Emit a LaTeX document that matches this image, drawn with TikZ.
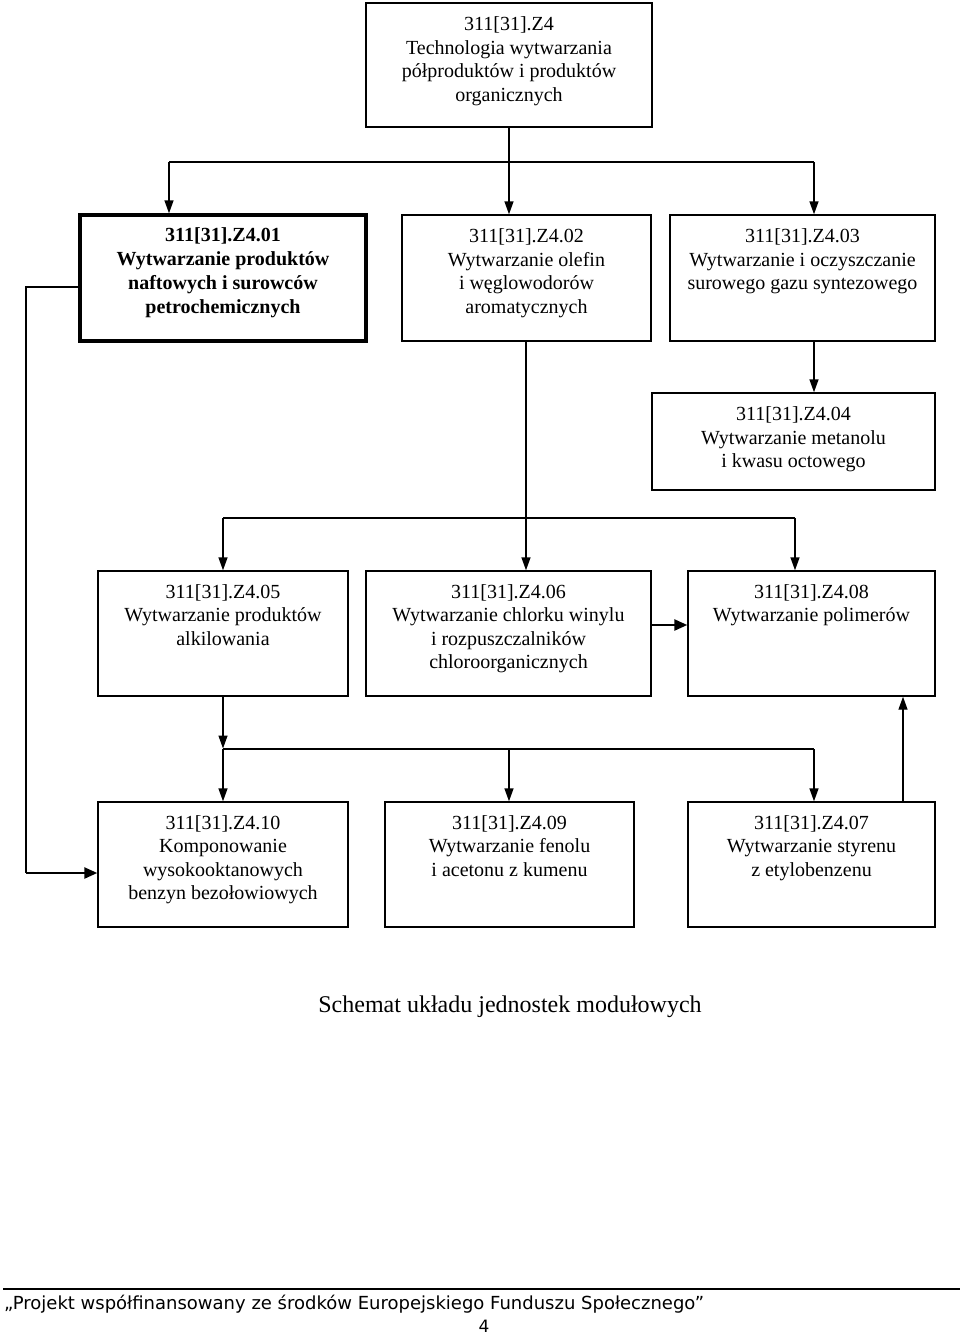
\documentclass[tikz,border=0pt]{standalone}
\usepackage{fontspec}
\setmainfont{Liberation Serif}
\newfontfamily\footfont{DejaVu Sans}
\usetikzlibrary{arrows.meta,calc}
\begin{document}
\begin{tikzpicture}[x=1pt,y=-1pt,
  box/.style={draw, line width=1.4pt, inner sep=0pt},
  boldbox/.style={draw, line width=3.4pt, inner sep=0pt},
  txt/.style={anchor=north, align=center, inner sep=0pt, font=\fontsize{20}{23.5}\selectfont},
  ln/.style={line width=1.4pt},
  arr/.style={line width=1.4pt, -{Triangle[length=13pt,width=9pt]}},
  thickarr/.style={line width=2.4pt, -{Triangle[length=13pt,width=11pt]}}]
\useasboundingbox (0,0) rectangle (960,1336);

% boxes
\node[box, minimum width=286pt, minimum height=124pt] (top) at (509,65) {};
\node[boldbox, minimum width=286pt, minimum height=126pt] (b01) at (223,278) {};
\node[box, minimum width=249pt, minimum height=126pt] (b02) at (526.5,278) {};
\node[box, minimum width=265pt, minimum height=126pt] (b03) at (802.5,278) {};
\node[box, minimum width=283pt, minimum height=97pt] (b04) at (793.5,441.5) {};
\node[box, minimum width=250pt, minimum height=125pt] (b05) at (223,633.5) {};
\node[box, minimum width=285pt, minimum height=125pt] (b06) at (508.5,633.5) {};
\node[box, minimum width=247pt, minimum height=125pt] (b08) at (811.5,633.5) {};
\node[box, minimum width=250pt, minimum height=125pt] (b10) at (223,864.5) {};
\node[box, minimum width=249pt, minimum height=125pt] (b09) at (509.5,864.5) {};
\node[box, minimum width=247pt, minimum height=125pt] (b07) at (811.5,864.5) {};

% texts
\node[txt] (ttop) at ($(top.north)+(0,14.5)$) {311[31].Z4\\Technologia wytwarzania\\półproduktów i produktów\\organicznych};
\node[txt, font=\fontsize{20}{24}\selectfont\bfseries] (t01) at ($(b01.north)+(0,14.5)$) {311[31].Z4.01\\Wytwarzanie produktów\\naftowych i surowców\\petrochemicznych};
\node[txt] (t02) at ($(b02.north)+(0,14.5)$) {311[31].Z4.02\\Wytwarzanie olefin\\i węglowodorów\\aromatycznych};
\node[txt] (t03) at ($(b03.north)+(0,14.5)$) {311[31].Z4.03\\Wytwarzanie i oczyszczanie\\surowego gazu syntezowego};
\node[txt] (t04) at ($(b04.north)+(0,14.5)$) {311[31].Z4.04\\Wytwarzanie metanolu\\i kwasu octowego};
\node[txt] (t05) at ($(b05.north)+(0,14)$) {311[31].Z4.05\\Wytwarzanie produktów\\alkilowania};
\node[txt] (t06) at ($(b06.north)+(0,14)$) {311[31].Z4.06\\Wytwarzanie chlorku winylu\\i rozpuszczalników\\chloroorganicznych};
\node[txt] (t08) at ($(b08.north)+(0,14)$) {311[31].Z4.08\\Wytwarzanie polimerów};
\node[txt] (t10) at ($(b10.north)+(0,14)$) {311[31].Z4.10\\Komponowanie\\wysokooktanowych\\benzyn bezołowiowych};
\node[txt] (t09) at ($(b09.north)+(0,14)$) {311[31].Z4.09\\Wytwarzanie fenolu\\i acetonu z kumenu};
\node[txt] (t07) at ($(b07.north)+(0,14)$) {311[31].Z4.07\\Wytwarzanie styrenu\\z etylobenzenu};

% junction coordinates
\coordinate (j1) at (509,162);
\coordinate (j1l) at (169,162);
\coordinate (j1r) at (814,162);
\coordinate (j2) at (526,518);
\coordinate (j2l) at (223,518);
\coordinate (j2r) at (795,518);
\coordinate (j3) at (223,749);
\coordinate (j3m) at (509,749);
\coordinate (j3r) at (814,749);
\coordinate (c1) at (26,287);
\coordinate (c2) at (26,873);

% top -> row 2
\draw[ln] (top.south) -- (j1);
\draw[ln] (j1l) -- (j1r);
\draw[arr] (j1l) -- (j1l |- b01.north);
\draw[arr] (j1) -- (j1 |- b02.north);
\draw[arr] (j1r) -- (j1r |- b03.north);

% 03 -> 04
\draw[arr] (j1r |- b03.south) -- (j1r |- b04.north);

% 02 -> 05, 06, 08
\draw[arr] (j2 |- b02.south) -- (j2 |- b06.north);
\draw[ln] (j2l) -- (j2r);
\draw[arr] (j2l) -- (j2l |- b05.north);
\draw[arr] (j2r) -- (j2r |- b08.north);

% 06 -> 08
\draw[thickarr] ($(b06.east)+(0,-8.5)$) -- ($(b08.west)+(0,-8.5)$);

% 01 -> 10
\draw[ln] (c1 -| b01.west) -- (c1) -- (c2);
\draw[thickarr] (c2) -- (c2 -| b10.west);

% 05 -> 10, 09, 07
\draw[arr] (j3 |- b05.south) -- ($(j3)+(0,-0.5)$);
\draw[ln] (j3) -- (j3r);
\draw[arr] (j3) -- (j3 |- b10.north);
\draw[arr] (j3m) -- (j3m |- b09.north);
\draw[arr] (j3r) -- (j3r |- b07.north);

% 07 -> 08
\coordinate (u) at (903,802);
\draw[arr] (u |- b07.north) -- (u |- b08.south);

% caption
\node[font=\fontsize{24}{28}\selectfont, inner sep=0pt] (title) at (510,1007) {Schemat układu jednostek modułowych};

% footer
\coordinate (fl) at (3,1289);
\coordinate (fr) at (960,1289);
\draw[line width=1.8pt] (fl) -- (fr);
\node[anchor=west, inner sep=0pt, font=\footfont\fontsize{18}{21}\selectfont] (foot) at (4,1304) {„Projekt współfinansowany ze środków Europejskiego Funduszu Społecznego”};
\node[inner sep=0pt, font=\footfont\fontsize{17}{20}\selectfont] (page) at (484,1326) {4};
\end{tikzpicture}
\end{document}
